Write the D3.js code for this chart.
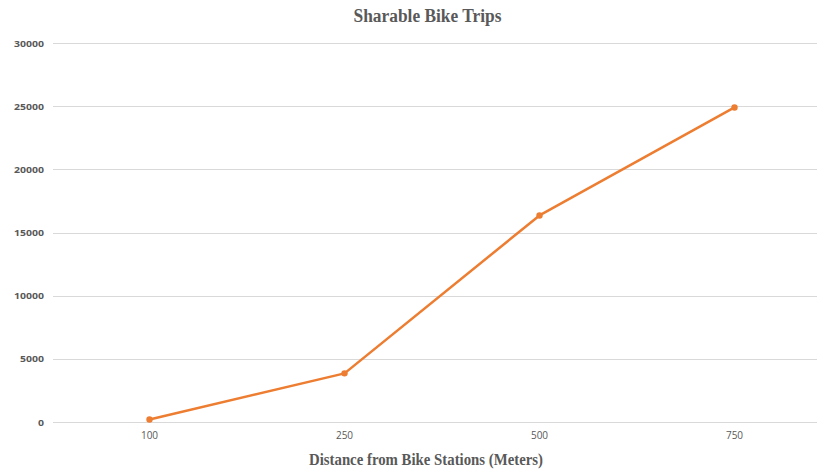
<!DOCTYPE html>
<html><head><meta charset="utf-8">
<script src="https://cdn.jsdelivr.net/npm/d3@7"></script>
<style>body{margin:0;background:#fff}svg{display:block}</style>
</head><body>
<svg id="c" width="817" height="470"></svg>
<script>
const categories = ["100", "250", "500", "750"];
const trips = [200, 3850, 16350, 24900];
const yTicks = [0, 5000, 10000, 15000, 20000, 25000, 30000];

const svg = d3.select("#c");
const W = 817, H = 470;
const x = d3.scaleBand().domain(categories).range([52, 832]).padding(0);
const y = d3.scaleLinear().domain([0, 30000]).range([422, 43]);

// gridlines
svg.append("g").selectAll("line").data(yTicks).join("line")
  .attr("x1", 53).attr("x2", W)
  .attr("y1", d => Math.round(y(d)) + 0.5).attr("y2", d => Math.round(y(d)) + 0.5)
  .attr("stroke", "#d9d9d9").attr("stroke-width", 1);

// y axis labels
const yAxis = d3.axisLeft(y).tickValues(yTicks).tickSize(0).tickPadding(0).tickFormat(d3.format("d"));
const gy = svg.append("g").attr("transform", "translate(44,0)").call(yAxis);
gy.select(".domain").remove();
gy.selectAll("text").attr("font-family", "'Open Sans', sans-serif").attr("font-size", 9.5)
  .attr("font-weight", 700).attr("fill", "#595959")
  .attr("textLength", d => String(d).length * 6).attr("lengthAdjust", "spacingAndGlyphs");

// x axis labels
const xAxis = d3.axisBottom(x).tickSize(0).tickPadding(0);
const gx = svg.append("g").attr("transform", "translate(0,432)").call(xAxis);
gx.select(".domain").remove();
gx.selectAll("text").attr("font-family", "'Open Sans', sans-serif").attr("font-size", 10)
  .attr("fill", "#595959");

// line
const cx = d => x(d) + x.bandwidth() / 2;
const pts = categories.map((c, i) => [cx(c), y(trips[i])]);
svg.append("path").datum(pts)
  .attr("d", d3.line())
  .attr("fill", "none").attr("stroke", "#ED7D31").attr("stroke-width", 2.5)
  .attr("stroke-linejoin", "round").attr("stroke-linecap", "round");
svg.append("g").selectAll("circle").data(pts).join("circle")
  .attr("cx", d => d[0]).attr("cy", d => d[1]).attr("r", 3.2).attr("fill", "#ED7D31");

// titles
svg.append("text").attr("x", 427.5).attr("y", 21.5).attr("text-anchor", "middle")
  .attr("font-family", "'Liberation Serif', 'Times New Roman', serif").attr("font-weight", "bold")
  .attr("font-size", 18.5).attr("fill", "#595959")
  .attr("textLength", 148).attr("lengthAdjust", "spacingAndGlyphs").text("Sharable Bike Trips");
svg.append("text").attr("x", 426).attr("y", 465).attr("text-anchor", "middle")
  .attr("font-family", "'Liberation Serif', 'Times New Roman', serif").attr("font-weight", "bold")
  .attr("font-size", 16).attr("fill", "#595959")
  .attr("textLength", 234).attr("lengthAdjust", "spacingAndGlyphs").text("Distance from Bike Stations (Meters)");
</script>
</body></html>
